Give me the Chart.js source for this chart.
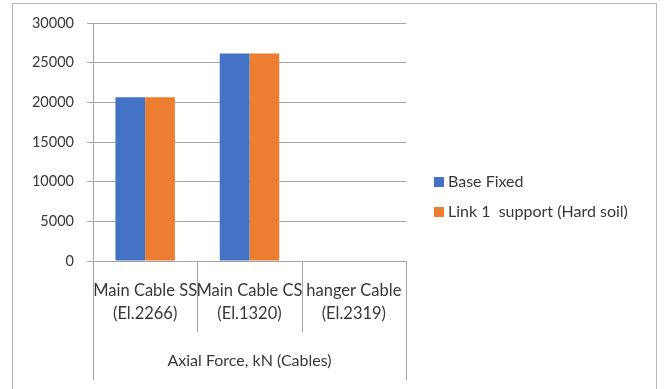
<!DOCTYPE html>
<html>
<head>
<meta charset="utf-8">
<script src="https://cdn.jsdelivr.net/npm/chart.js@4"></script>
<style>
  body { margin: 0; background: #fff; }
  #chart { position: absolute; left: 0; top: 0; }
  #frame {
    position: absolute; left: 12px; top: 3px; width: 645px; height: 400px;
    box-sizing: border-box; border: 1px solid #b4b4b4; border-bottom: none;
    pointer-events: none;
  }
</style>
</head>
<body>
<canvas id="chart" width="664" height="389"></canvas>
<div id="frame"></div>
<script>
const categories = [
    ["Main Cable SS", "(El.2266)"],
    ["Main Cable CS", "(El.1320)"],
    ["hanger Cable", "(El.2319)"]
];
const baseFixed = [20630, 26150, 0];
const link1Support = [20630, 26150, 0];
const yTicks = [0, 5000, 10000, 15000, 20000, 25000, 30000];
const axisTitle = "Axial Force, kN (Cables)";

const lineColor = '#a6a6a6';
const textColor = '#383838';
const fontFamily = 'Lato, "Liberation Sans", sans-serif';

// separators under the category axis, Excel style
const categoryLines = {
    id: 'categoryLines',
    afterDraw(chart) {
        const x = chart.scales.x;
        const area = chart.chartArea;
        const n = categories.length;
        const step = x.width / n;
        const c = chart.ctx;
        c.save();
        c.strokeStyle = lineColor;
        c.lineWidth = 1;
        for (let i = 0; i <= n; i++) {
            const px = Math.round(x.left + i * step) + 0.5;
            const end = (i === 0 || i === n) ? x.bottom : area.bottom + 71;
            c.beginPath();
            c.moveTo(px, area.bottom);
            c.lineTo(px, end);
            c.stroke();
        }
        c.restore();
    }
};

// built-in right legend gets capped at a quarter of the width, so draw it here
const sideLegend = {
    id: 'sideLegend',
    afterDraw(chart) {
        const c = chart.ctx;
        const items = chart.legend.legendItems;
        const left = chart.chartArea.right + 28;
        const rowH = 30;
        let y = chart.height / 2 + 2 - (items.length - 1) * rowH / 2;
        c.save();
        c.font = '16px ' + fontFamily;
        c.textBaseline = 'middle';
        items.forEach(item => {
            c.fillStyle = item.fillStyle;
            c.fillRect(left, Math.round(y) - 5, 10, 10);
            c.fillStyle = textColor;
            c.fillText(item.text, left + 14, y);
            y += rowH;
        });
        c.restore();
    }
};

new Chart(document.getElementById('chart').getContext('2d'), {
    type: 'bar',
    data: {
        labels: categories,
        datasets: [
            { label: 'Base Fixed', data: baseFixed, backgroundColor: '#4472C4' },
            { label: 'Link 1  support (Hard soil)', data: link1Support, backgroundColor: '#ED7D31' }
        ]
    },
    plugins: [categoryLines, sideLegend],
    options: {
        responsive: false,
        animation: false,
        devicePixelRatio: 1,
        layout: { padding: { top: 23, bottom: 9, left: 0, right: 258 } },
        datasets: { bar: { barPercentage: 1, categoryPercentage: 0.57 } },
        scales: {
            x: {
                afterFit(scale) { scale.height = 119; },
                grid: { display: false },
                border: { display: false },
                ticks: {
                    color: textColor,
                    font: { family: fontFamily, size: 16.5, lineHeight: 1.4 },
                    padding: 10,
                    maxRotation: 0,
                    autoSkip: false
                },
                title: {
                    display: true,
                    text: axisTitle,
                    color: textColor,
                    font: { family: fontFamily, size: 16 },
                    padding: { top: 0, bottom: 10 }
                }
            },
            y: {
                min: 0,
                max: 30000,
                afterFit(scale) { scale.width = 93; },
                afterBuildTicks(scale) { scale.ticks = yTicks.map(v => ({ value: v })); },
                grid: { color: lineColor, tickLength: 6, tickColor: lineColor },
                border: { display: true, color: lineColor },
                ticks: {
                    color: textColor,
                    font: { family: fontFamily, size: 14.5 },
                    padding: 13,
                    callback: v => String(v)
                }
            }
        },
        plugins: {
            legend: { display: false },
            tooltip: { enabled: false }
        }
    }
});
</script>
</body>
</html>
